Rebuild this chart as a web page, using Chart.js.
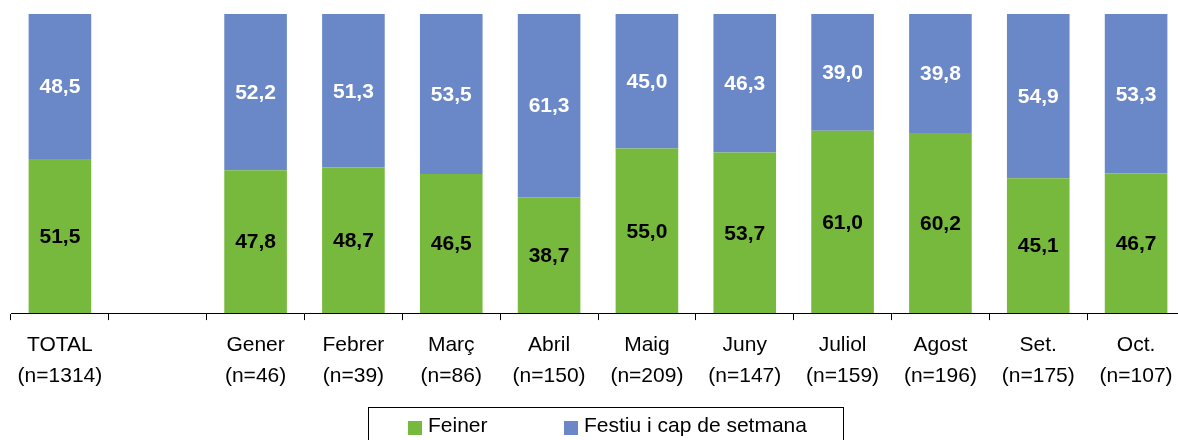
<!DOCTYPE html>
<html>
<head>
<meta charset="utf-8">
<script src="https://cdn.jsdelivr.net/npm/chart.js@4"></script>
<style>
  body { margin: 0; background: #fff; overflow: hidden; }
  #wrap { width: 1185px; height: 440px; position: relative; }
</style>
</head>
<body>
<div id="wrap"><canvas id="myChart"></canvas></div>
<script>
var months = ['TOTAL', '', 'Gener', 'Febrer', 'Març', 'Abril', 'Maig', 'Juny', 'Juliol', 'Agost', 'Set.', 'Oct.'];
var sizes = ['(n=1314)', '', '(n=46)', '(n=39)', '(n=86)', '(n=150)', '(n=209)', '(n=147)', '(n=159)', '(n=196)', '(n=175)', '(n=107)'];
var feiner = [51.5, null, 47.8, 48.7, 46.5, 38.7, 55.0, 53.7, 61.0, 60.2, 45.1, 46.7];
var festiu = [48.5, null, 52.2, 51.3, 53.5, 61.3, 45.0, 46.3, 39.0, 39.8, 54.9, 53.3];

var green = 'rgb(119, 185, 61)';
var blue = 'rgb(106, 135, 200)';

var labels = months.map(function (m, i) { return m === '' ? '' : [m, sizes[i]]; });

// values inside the bars
var barValues = {
  id: 'barValues',
  afterDatasetsDraw: function (chart) {
    var ctx = chart.ctx;
    ctx.save();
    ctx.font = 'bold 21px "Liberation Sans", Arial, sans-serif';
    ctx.textAlign = 'center';
    ctx.textBaseline = 'middle';
    chart.data.datasets.forEach(function (ds, di) {
      var meta = chart.getDatasetMeta(di);
      meta.data.forEach(function (bar, i) {
        var v = ds.data[i];
        if (v == null) return;
        ctx.fillStyle = ds.labelColor;
        ctx.fillText(v.toFixed(1).replace('.', ','), bar.x, (bar.y + bar.base) / 2 + 1);
      });
    });
    ctx.restore();
  }
};

// legend in a framed box under the axis
var boxLegend = {
  id: 'boxLegend',
  afterDraw: function (chart) {
    var ctx = chart.ctx;
    ctx.save();
    ctx.strokeStyle = '#000';
    ctx.lineWidth = 1;
    ctx.strokeRect(368.5, 407.5, 475, 40);
    ctx.font = '21px "Liberation Sans", Arial, sans-serif';
    ctx.textBaseline = 'middle';
    ctx.textAlign = 'left';
    var xs = [408, 564];
    chart.data.datasets.forEach(function (ds, i) {
      ctx.fillStyle = ds.backgroundColor;
      ctx.fillRect(xs[i], 421, 14, 14);
      ctx.fillStyle = '#000';
      ctx.fillText(ds.label, xs[i] + 20, 426);
    });
    ctx.restore();
  }
};

var ctx = document.getElementById('myChart').getContext('2d');
var myChart = new Chart(ctx, {
  type: 'bar',
  data: {
    labels: labels,
    datasets: [
      { label: 'Feiner', data: feiner, backgroundColor: green, labelColor: '#000' },
      { label: 'Festiu i cap de setmana', data: festiu, backgroundColor: blue, labelColor: '#fff' }
    ]
  },
  options: {
    responsive: true,
    maintainAspectRatio: false,
    animation: false,
    datasets: {
      bar: { categoryPercentage: 1, barPercentage: 0.64 }
    },
    layout: { padding: { left: 11, right: 0, top: 14, bottom: 39 } },
    plugins: {
      legend: { display: false },
      tooltip: { enabled: false }
    },
    scales: {
      x: {
        stacked: true,
        offset: true,
        grid: { offset: true, drawOnChartArea: false, drawTicks: true, tickLength: 7, color: '#000' },
        border: { color: '#000', width: 1 },
        ticks: {
          color: '#000',
          padding: 10,
          maxRotation: 0,
          autoSkip: false,
          font: { family: '"Liberation Sans", Arial, sans-serif', size: 21, lineHeight: 1.45 }
        }
      },
      y: {
        stacked: true,
        display: false,
        min: 0,
        max: 100
      }
    }
  },
  plugins: [barValues, boxLegend]
});
</script>
</body>
</html>
